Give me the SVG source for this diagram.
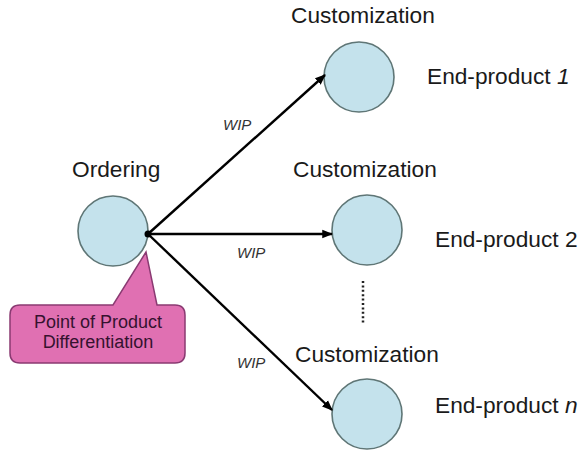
<svg xmlns="http://www.w3.org/2000/svg" width="579" height="452" viewBox="0 0 579 452">
  <style>
    .node { fill: #c4e2ec; stroke: #5f7676; stroke-width: 1.6; }
    .lbl { font-family: "Liberation Sans", Arial, sans-serif; fill: #1a1a1a; }
    .big { font-size: 22.7px; }
    .end { font-size: 22.7px; }
    .wip { font-size: 15px; font-style: italic; fill: #333; }
    .edge { stroke: #000; stroke-width: 2.4; fill: none; marker-end: url(#arrow); }
    .call { fill: #e070b2; stroke: #8a3a72; stroke-width: 1.5; }
    .calltext { font-family: "Liberation Sans", Arial, sans-serif; font-size: 18px; fill: #35122f; text-anchor: middle; }
  </style>
  <defs>
    <marker id="arrow" viewBox="0 0 10 10" refX="9" refY="5" markerWidth="4.5" markerHeight="4.5" orient="auto" markerUnits="strokeWidth">
      <path d="M0,1 L10,5 L0,9 z" fill="#000"/>
    </marker>
  </defs>
  <rect width="579" height="452" fill="#fff"/>

  <!-- callout pointing at the branch point -->
  <g id="callout">
    <path class="call" d="M20,305 L113,305 L146,252 L157,305 L175,305 Q185,305 185,315 L185,353 Q185,363 175,363 L20,363 Q10,363 10,353 L10,315 Q10,305 20,305 Z"/>
    <text class="calltext" x="98" y="328">Point of Product</text>
    <text class="calltext" x="98" y="348">Differentiation</text>
  </g>

  <g id="ordering">
    <circle class="node" cx="113" cy="231" r="35"/>
    <text class="lbl big" x="72" y="177">Ordering</text>
  </g>

  <g id="custom1">
    <circle class="node" cx="359" cy="77" r="35"/>
    <text class="lbl big" x="291" y="23">Customization</text>
    <text class="lbl end" x="427" y="84">End-product <tspan font-style="italic">1</tspan></text>
  </g>

  <g id="custom2">
    <circle class="node" cx="367" cy="230" r="35"/>
    <text class="lbl big" x="293" y="177">Customization</text>
    <text class="lbl end" x="435" y="247">End-product 2</text>
  </g>

  <g id="customN">
    <circle class="node" cx="367" cy="414" r="35"/>
    <text class="lbl big" x="295" y="362">Customization</text>
    <text class="lbl end" x="435" y="413">End-product <tspan font-style="italic">n</tspan></text>
  </g>

  <!-- ellipsis between the middle and last customization stages -->
  <line x1="363" y1="281" x2="363" y2="324" stroke="#222" stroke-width="2.5" stroke-dasharray="2 2.4"/>

  <g id="connectors">
    <line class="edge" x1="148" y1="234" x2="325" y2="75"/>
    <line class="edge" x1="148" y1="234" x2="332" y2="234"/>
    <line class="edge" x1="148" y1="234" x2="332" y2="410"/>
    <circle cx="148" cy="234" r="3.5" fill="#000"/>
    <text class="lbl wip" x="223" y="130">WIP</text>
    <text class="lbl wip" x="237" y="258">WIP</text>
    <text class="lbl wip" x="237" y="368">WIP</text>
  </g>
</svg>
